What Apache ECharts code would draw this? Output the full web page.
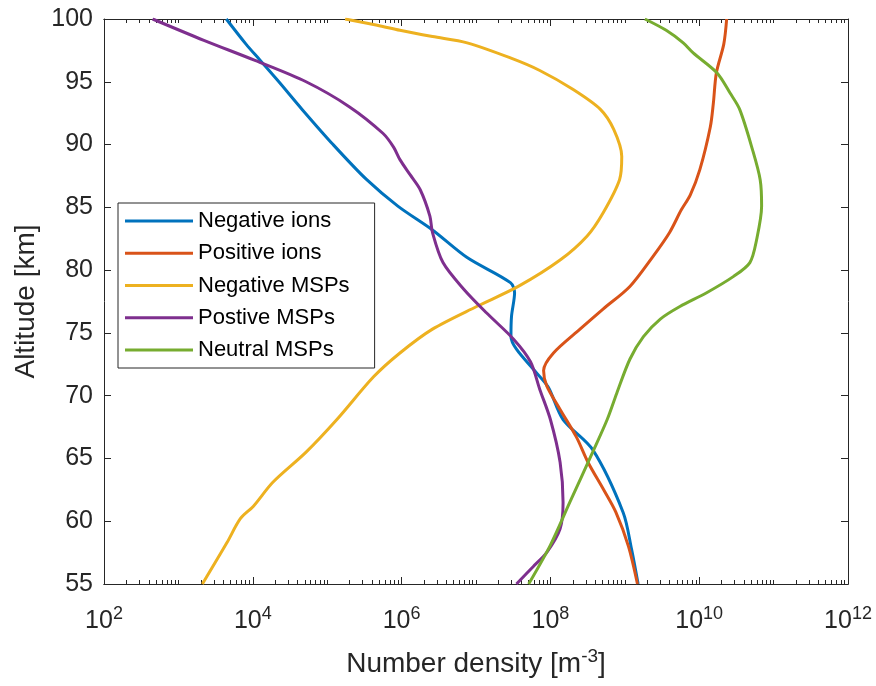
<!DOCTYPE html>
<html>
<head>
<meta charset="utf-8">
<script src="https://cdn.jsdelivr.net/npm/echarts@6/dist/echarts.min.js"></script>
<style>
html,body{margin:0;padding:0;background:#ffffff;}
#chart{width:876px;height:686px;}
</style>
</head>
<body>
<div id="chart"></div>
<script>
// ---------------- data (altitude in km, number density in m^-3) ----------------
const seriesNames = ['Negative ions', 'Positive ions', 'Negative MSPs', 'Postive MSPs', 'Neutral MSPs'];
const seriesColors = ['#0072BD', '#D95319', '#EDB120', '#7E2F8E', '#77AC30'];

const negIonAlt = [100, 98, 96.7, 95, 92.8, 90, 87.2, 85.1, 83.2, 81.0, 79.0, 78.2, 76.3, 74.7, 73.7, 72.1, 70.7, 68.1, 65.7, 60.7, 57.8, 55];
const negIonDensity = [4.4e3, 8.1e3, 1.26e4, 2.24e4, 4.6e4, 1.2e5, 3.4e5, 8.9e5, 2.6e6, 7.6e6, 2.9e7, 3.3e7, 3.0e7, 2.95e7, 3.5e7, 5.9e7, 9.3e7, 1.48e8, 3.7e8, 9.5e8, 1.23e9, 1.51e9];

const posIonAlt = [100, 98, 95.7, 93.3, 91.4, 88, 86, 84.8, 83, 81.1, 78.7, 76.9, 75.3, 73.4, 72.0, 70.8, 68.9, 66.7, 64.7, 62.5, 60.7, 58, 55];
const posIonDensity = [2.34e10, 2.14e10, 1.7e10, 1.55e10, 1.41e10, 1.02e10, 7.6e9, 5.75e9, 4.0e9, 2.4e9, 1.17e9, 5.1e8, 2.5e8, 1.1e8, 8.1e7, 8.9e7, 1.35e8, 2.24e8, 3.2e8, 5.2e8, 7.6e8, 1.12e9, 1.48e9];

const negMspAlt = [100, 99.5, 99.1, 98.6, 98.1, 96.9, 95.9, 94.4, 92.8, 91.2, 89.05, 87.2, 84.55, 82.7, 80.8, 78.7, 77.1, 75.3, 73.4, 71.5, 68.1, 65.5, 63.1, 61.2, 60.2, 58.3, 55];
const negMspDensity = [1.74e5, 4.7e5, 9.5e5, 2.6e6, 7.6e6, 2.9e7, 7.2e7, 2.0e8, 4.7e8, 7.1e8, 9.1e8, 8.5e8, 5.1e8, 3.1e8, 1.35e8, 3.7e7, 1.02e7, 2.6e6, 9.5e5, 4.2e5, 1.35e5, 5.2e4, 1.86e4, 1.02e4, 6.8e3, 4.5e3, 2.1e3];

const posMspAlt = [100, 98.3, 96.7, 95.0, 93.0, 90.9, 89.8, 88.8, 87.6, 86.4, 84.3, 83.0, 80.6, 78.5, 76.6, 74.5, 72.7, 70.5, 68.1, 64.7, 61.5, 59.4, 57.5, 56.4, 55];
const posMspDensity = [4.5e2, 2.2e3, 1.07e4, 5.2e4, 2.0e5, 5.6e5, 7.8e5, 9.5e5, 1.3e6, 1.78e6, 2.4e6, 2.6e6, 3.6e6, 6.8e6, 1.38e7, 3.2e7, 5.4e7, 7.2e7, 1.0e8, 1.35e8, 1.48e8, 1.35e8, 8.9e7, 5.9e7, 3.5e7];

const neuMspAlt = [100, 99.1, 98.1, 97.3, 95.7, 94.1, 92.8, 89.6, 87.2, 85.1, 82.4, 80.6, 79.5, 78.2, 77.1, 76.1, 74.7, 72.9, 70.2, 68.1, 65.5, 61.5, 58.1, 55];
const neuMspDensity = [1.86e9, 3.6e9, 6.1e9, 8.3e9, 1.74e10, 2.6e10, 3.5e10, 5.2e10, 6.6e10, 6.9e10, 5.9e10, 4.8e10, 2.9e10, 1.26e10, 5.5e9, 3.0e9, 1.78e9, 1.17e9, 7.8e8, 5.8e8, 3.7e8, 1.82e8, 1.0e8, 5.1e7];

// ---------------- axis ticks ----------------
const xMajorTicks = [1e2, 1e4, 1e6, 1e8, 1e10, 1e12];
const xMinorTicks = [];
for (let e = 2; e < 12; e++) {
  for (let m = 1; m <= 9; m++) {
    if (m === 1 && e % 2 === 0) continue;
    xMinorTicks.push(m * Math.pow(10, e));
  }
}
const yTicks = [55, 60, 65, 70, 75, 80, 85, 90, 95, 100];

// ---------------- chart ----------------
const FONT = '"Liberation Sans", Arial, Helvetica, sans-serif';
const AX = '#262626';

function expLabel(v) {
  const e = Math.round(Math.log10(v));
  return '10{sup|' + e + '}';
}

const baseLog = {
  type: 'log', logBase: 10, min: 1e2, max: 1e12,
  splitLine: { show: false },
  axisLine: { show: true, onZero: false, lineStyle: { color: AX, width: 1 } }
};

function xAx(position, major, showLabels) {
  const ax = Object.assign({}, baseLog, {
    position: position,
    axisTick: { show: true, inside: true, length: major ? 7 : 4, lineStyle: { color: AX, width: 1 },
                customValues: major ? xMajorTicks : xMinorTicks },
    axisLabel: { show: false }
  });
  if (showLabels) {
    ax.axisLabel = {
      show: true, customValues: xMajorTicks, formatter: expLabel,
      margin: 21, color: AX, fontFamily: FONT, fontSize: 25, lineHeight: 32,
      rich: { sup: { fontSize: 18, fontFamily: FONT, color: AX, verticalAlign: 'top', lineHeight: 18 } }
    };
    ax.name = 'Number density [m{sup|-3}]';
    ax.nameLocation = 'middle';
    ax.nameGap = 63;
    ax.nameTextStyle = {
      color: AX, fontFamily: FONT, fontSize: 28, lineHeight: 34,
      rich: { sup: { fontSize: 19, fontFamily: FONT, color: AX, verticalAlign: 'top', lineHeight: 19 } }
    };
  }
  return ax;
}

function yAx(position, showLabels) {
  const ax = {
    type: 'value', min: 55, max: 100, interval: 5, position: position,
    splitLine: { show: false },
    axisLine: { show: true, onZero: false, lineStyle: { color: AX, width: 1 } },
    axisTick: { show: true, inside: true, length: 7, lineStyle: { color: AX, width: 1 }, customValues: yTicks },
    axisLabel: { show: false }
  };
  if (showLabels) {
    ax.axisLabel = { show: true, customValues: yTicks, margin: 11, color: AX, fontFamily: FONT, fontSize: 25 };
    ax.name = 'Altitude [km]';
    ax.nameLocation = 'middle';
    ax.nameGap = 62;
    ax.nameTextStyle = { color: AX, fontFamily: FONT, fontSize: 28 };
  }
  return ax;
}

const seriesDefs = [
  [negIonDensity, negIonAlt],
  [posIonDensity, posIonAlt],
  [negMspDensity, negMspAlt],
  [posMspDensity, posMspAlt],
  [neuMspDensity, neuMspAlt]
];

const chart = echarts.init(document.getElementById('chart'), null, { renderer: 'canvas' });
chart.setOption({
  animation: false,
  backgroundColor: '#ffffff',
  grid: { left: 104, right: 28, top: 19, bottom: 101, containLabel: false },
  xAxis: [
    xAx('bottom', true, true),
    xAx('bottom', false, false),
    xAx('top', true, false),
    xAx('top', false, false)
  ],
  yAxis: [
    yAx('left', true),
    yAx('right', false)
  ],
  legend: {
    orient: 'vertical', left: 118, top: 203,
    icon: 'rect',
    itemWidth: 68, itemHeight: 3, itemGap: 10.25,
    padding: [7, 25, 7, 7],
    borderColor: AX, borderWidth: 1, backgroundColor: '#ffffff',
    textStyle: { color: '#000000', fontFamily: FONT, fontSize: 22, lineHeight: 22 },
    data: seriesNames
  },
  series: seriesDefs.map((d, i) => ({
    name: seriesNames[i],
    type: 'line',
    xAxisIndex: 0, yAxisIndex: 0,
    data: d[0].map((x, k) => [x, d[1][k]]),
    symbol: 'none',
    showSymbol: false,
    smooth: 0.3,
    clip: true,
    itemStyle: { color: seriesColors[i] },
    lineStyle: { color: seriesColors[i], width: 3 }
  }))
});
</script>
</body>
</html>
